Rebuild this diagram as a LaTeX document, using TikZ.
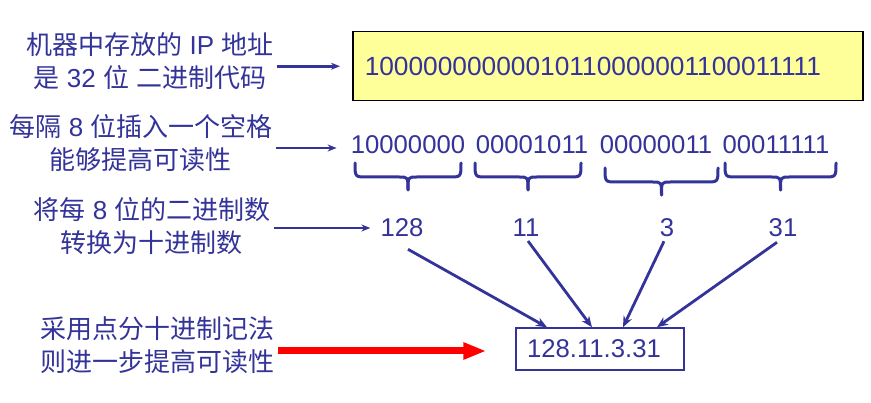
\documentclass[tikz,border=0pt]{standalone}
\usepackage{fontspec}
\setmainfont{Liberation Sans}
\newfontfamily\cjk{Noto Sans CJK SC}
\usetikzlibrary{arrows.meta,calc}
\definecolor{tblue}{RGB}{51,51,153}
\definecolor{pyellow}{RGB}{255,255,153}
\definecolor{rred}{RGB}{255,0,0}
\newcommand\zh[1]{{\cjk #1}}
\newcommand\drawbrace[5]{% x0, x1, ytop, yh, ytip
  \pgfmathsetmacro\bm{(#1+#2)/2}
  \draw[brc] (#1,#3) .. controls (#1,#4) .. (#1+12,#4) -- (\bm-9,#4) .. controls (\bm,#4) .. (\bm,#5);
  \draw[brc] (#2,#3) .. controls (#2,#4) .. (#2-12,#4) -- (\bm+9,#4) .. controls (\bm,#4) .. (\bm,#5);
}
\begin{document}
\begin{tikzpicture}[x=1pt,y=-1pt,
  every node/.style={text=tblue, inner sep=0pt, font=\fontsize{26}{33}\selectfont},
  lbl/.style={align=center},
  bin/.style={font=\fontsize{25.7}{30}\selectfont},
  arr/.style={draw=tblue, line width=2.6pt, -{Stealth[length=9pt,width=7pt]}},
  darr/.style={draw=tblue, line width=2.8pt, -{Stealth[length=11pt,width=9pt]}},
  redarr/.style={draw=rred, line width=7pt, -{Triangle[length=23pt,width=16pt]}},
  brc/.style={draw=tblue, line width=3pt, line cap=round}]
\useasboundingbox (0,0) rectangle (871,403);

% left labels
\node[lbl] (l1) at (150,61.5) {\zh{机器中存放的} IP \zh{地址}\\\zh{是} 32 \zh{位} \zh{二进制代码}};
\node[lbl] (l2) at (141,143.5) {\zh{每隔} 8 \zh{位插入一个空格}\\\zh{能够提高可读性}};
\node[lbl] (l3) at (152,226.5) {\zh{将每} 8 \zh{位的二进制数}\\\zh{转换为十进制数}};
\node[lbl] (l4) at (158,345) {\zh{采用点分十进制记法}\\\zh{则进一步提高可读性}};

% yellow box
\node[bin, font=\fontsize{26.3}{30}\selectfont, draw=black, fill=pyellow, line width=1.5pt, anchor=north west,
      inner xsep=12pt, text width=486pt, align=left, minimum height=69pt] (ybox) at (352,31)
      {10000000000010110000001100011111};

% grouped bytes
\node[bin] (g1) at (408,145) {10000000};
\node[bin] (g2) at (532,145) {00001011};
\node[bin] (g3) at (656,145) {00000011};
\node[bin] (g4) at (776,145) {00011111};

% braces
\drawbrace{355}{461}{163}{177}{190}
\drawbrace{475}{581}{163}{177}{190}
\drawbrace{605}{718}{168}{182}{195}
\drawbrace{725}{836}{163}{177}{190}

% decimal numbers
\node[bin] (n1) at (402,228) {128};
\node[bin] (n2) at (526,228) {11};
\node[bin] (n3) at (667,228) {3};
\node[bin] (n4) at (783,228) {31};

% final box
\node[bin, draw=tblue, line width=1.5pt, inner xsep=11pt, text width=146pt, align=left,
      minimum height=42pt] (fb) at (600,349) {128.11.3.31};

% arrows
\draw[arr, shorten <=3pt, shorten >=12pt] (l1.east |- ybox.west) -- (ybox.west);
\draw[arr, shorten <=3pt, shorten >=14pt] ([yshift=-3pt]l2.east |- g1.west) -- ([yshift=-3pt]g1.west);
\draw[arr, shorten <=3pt, shorten >=10pt] (l3.east |- n1.west) -- (n1.west);
\draw[redarr, shorten <=3pt, shorten >=29pt] ([yshift=-2pt]l4.east |- fb.west) -- ([yshift=-2pt]fb.west);

\coordinate (t1) at ([xshift=-53pt]fb.north);
\coordinate (t2) at ([xshift=-8pt]fb.north);
\coordinate (t3) at ([xshift=23pt]fb.north);
\coordinate (t4) at ([xshift=57pt]fb.north);
\draw[darr] ([xshift=6pt,yshift=-12pt]n1.south) -- (t1);
\draw[darr] ([xshift=2pt,yshift=-4pt]n2.south) -- (t2);
\draw[darr] ([xshift=-3pt,yshift=-4pt]n3.south) -- (t3);
\draw[darr] ([xshift=-6pt,yshift=-5pt]n4.south) -- (t4);
\end{tikzpicture}
\end{document}
